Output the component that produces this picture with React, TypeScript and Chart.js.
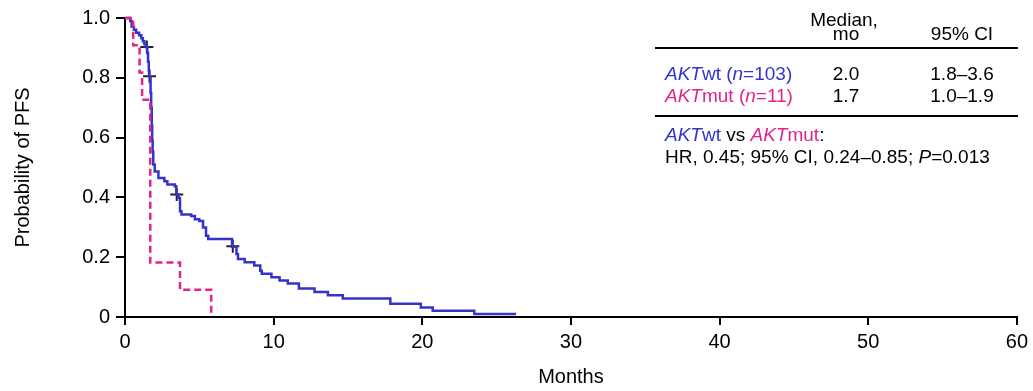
import { useEffect, useRef } from 'react';
import { Chart, registerables } from 'chart.js';

Chart.register(...registerables);

// AKTwt (n=103) Kaplan–Meier step points
const wtTimes = [0, 0.35, 0.45, 0.6, 0.75, 0.95, 1.1, 1.2, 1.3, 1.4, 1.5, 1.55, 1.6, 1.62, 1.72, 1.76, 1.8, 1.83, 1.86, 1.9, 2.0, 2.25, 2.65, 2.85, 3.35, 3.45, 3.6, 3.7, 3.8, 4.45, 4.7, 5.0, 5.25, 5.45, 5.6, 7.2, 7.5, 7.6, 8.05, 8.7, 9.1, 9.2, 9.85, 10.4, 10.95, 11.7, 12.75, 13.65, 14.65, 17.85, 19.9, 20.7, 23.5, 26.3];
const wtSurv = [1.0, 0.99, 0.971, 0.961, 0.951, 0.942, 0.932, 0.922, 0.913, 0.903, 0.883, 0.854, 0.825, 0.805, 0.75, 0.7, 0.64, 0.59, 0.553, 0.51, 0.487, 0.465, 0.454, 0.443, 0.437, 0.41, 0.398, 0.354, 0.343, 0.338, 0.327, 0.321, 0.299, 0.272, 0.261, 0.235, 0.211, 0.194, 0.183, 0.172, 0.155, 0.145, 0.133, 0.122, 0.112, 0.095, 0.084, 0.073, 0.062, 0.044, 0.032, 0.021, 0.01, 0.01];

// AKTmut (n=11)
const mutTimes = [0, 0.55, 0.98, 1.15, 1.7, 3.7, 5.8];
const mutSurv = [1.0, 0.909, 0.818, 0.727, 0.182, 0.091, 0];

// censoring marks (AKTwt)
const censorTimes = [1.47, 1.65, 3.48, 7.25];
const censorSurv = [0.903, 0.805, 0.41, 0.237];

const xTickValues = [0, 10, 20, 30, 40, 50, 60];
const yTickValues = [0, 0.2, 0.4, 0.6, 0.8, 1.0];
const yTickLabels = ['0', '0.2', '0.4', '0.6', '0.8', '1.0'];

const BLUE = '#3434c8';
const MAGENTA = '#e2238c';
const FONT = "'Liberation Sans', Arial, sans-serif";

type Seg = { t: string; c?: string; i?: boolean };

const tablePlugin = {
  id: 'kmTable',
  afterDraw(chart: any) {
    const ctx = chart.ctx as CanvasRenderingContext2D;
    ctx.save();
    ctx.textBaseline = 'alphabetic';
    const size = 19;
    const setFont = (italic?: boolean) => {
      ctx.font = `${italic ? 'italic ' : ''}${size}px ${FONT}`;
    };
    const runWidth = (segs: Seg[]) => {
      let w = 0;
      for (const s of segs) { setFont(s.i); w += ctx.measureText(s.t).width; }
      return w;
    };
    const drawRun = (segs: Seg[], x: number, y: number) => {
      ctx.textAlign = 'left';
      let cx = x;
      for (const s of segs) {
        setFont(s.i);
        ctx.fillStyle = s.c || '#000';
        ctx.fillText(s.t, cx, y);
        cx += ctx.measureText(s.t).width;
      }
    };
    const drawCenter = (segs: Seg[], cx: number, y: number) => {
      drawRun(segs, cx - runWidth(segs) / 2, y);
    };
    const colMed = 846;
    const colCI = 962;
    const left = 665;

    drawCenter([{ t: 'Median,' }], colMed - 2, 26);
    drawCenter([{ t: 'mo' }], colMed, 40);
    drawCenter([{ t: '95% CI' }], colCI, 40);

    ctx.strokeStyle = '#000';
    ctx.lineWidth = 2;
    ctx.beginPath();
    ctx.moveTo(655, 48); ctx.lineTo(1018, 48);
    ctx.moveTo(655, 116); ctx.lineTo(1018, 116);
    ctx.stroke();

    drawRun([{ t: 'AKT', c: BLUE, i: true }, { t: 'wt (', c: BLUE }, { t: 'n', c: BLUE, i: true }, { t: '=103)', c: BLUE }], left, 80);
    drawCenter([{ t: '2.0' }], colMed, 80);
    drawCenter([{ t: '1.8–3.6' }], colCI, 80);

    drawRun([{ t: 'AKT', c: MAGENTA, i: true }, { t: 'mut (', c: MAGENTA }, { t: 'n', c: MAGENTA, i: true }, { t: '=11)', c: MAGENTA }], left, 102);
    drawCenter([{ t: '1.7' }], colMed, 102);
    drawCenter([{ t: '1.0–1.9' }], colCI, 102);

    drawRun([{ t: 'AKT', c: BLUE, i: true }, { t: 'wt', c: BLUE }, { t: ' vs ' }, { t: 'AKT', c: MAGENTA, i: true }, { t: 'mut', c: MAGENTA }, { t: ':' }], left, 141);
    drawRun([{ t: 'HR, 0.45; 95% CI, 0.24–0.85; ' }, { t: 'P', i: true }, { t: '=0.013' }], left, 163);
    ctx.restore();
  },
};

export default function App() {
  const ref = useRef<HTMLCanvasElement | null>(null);
  useEffect(() => {
    if (!ref.current) return;
    const wtData = wtTimes.map((t, i) => ({ x: t, y: wtSurv[i] }));
    const mutData = mutTimes.map((t, i) => ({ x: t, y: mutSurv[i] }));
    const censorData = censorTimes.map((t, i) => ({ x: t, y: censorSurv[i] }));
    const tickFont = { family: FONT, size: 20 };
    const chart = new Chart(ref.current, {
      type: 'line',
      data: {
        datasets: [
          { label: 'AKTmut', data: mutData, borderColor: MAGENTA, borderWidth: 2.5, borderDash: [7, 4], stepped: true, pointRadius: 0, fill: false, clip: false } as any,
          { label: 'AKTwt', data: wtData, borderColor: BLUE, borderWidth: 2.5, stepped: true, pointRadius: 0, fill: false, clip: false } as any,
          { type: 'scatter', label: 'censored', data: censorData, showLine: false, pointStyle: 'cross', pointRadius: 6.5, borderColor: '#222', backgroundColor: '#222', pointBorderWidth: 2, borderWidth: 2, clip: false } as any,
        ],
      },
      options: {
        responsive: false,
        animation: false,
        devicePixelRatio: 1,
        layout: { padding: { left: 0, right: 14, top: 15, bottom: 0 } },
        plugins: { legend: { display: false }, tooltip: { enabled: false } },
        scales: {
          x: {
            type: 'linear',
            min: 0,
            max: 60,
            afterBuildTicks: (scale: any) => { scale.ticks = xTickValues.map((v) => ({ value: v })); },
            afterFit: (scale: any) => { scale.height = 74; },
            ticks: { color: '#000', font: tickFont, padding: 5, maxRotation: 0, callback: (v: any) => String(v) },
            grid: { drawOnChartArea: false, drawTicks: true, tickLength: 8, color: '#000', lineWidth: 2 },
            border: { display: true, color: '#000', width: 2 },
            title: { display: true, text: 'Months', color: '#000', font: { family: FONT, size: 20 }, padding: { top: 0, bottom: 2 } },
          },
          y: {
            type: 'linear',
            min: 0,
            max: 1,
            afterBuildTicks: (scale: any) => { scale.ticks = yTickValues.map((v) => ({ value: v })); },
            afterFit: (scale: any) => { scale.width = 125; },
            ticks: { color: '#000', font: tickFont, padding: 6, callback: (_v: any, i: number) => yTickLabels[i] },
            grid: { drawOnChartArea: false, drawTicks: true, tickLength: 9, color: '#000', lineWidth: 2 },
            border: { display: true, color: '#000', width: 2 },
            title: { display: true, text: 'Probability of PFS', color: '#000', font: { family: FONT, size: 20 }, padding: { top: 11, bottom: 0 } },
          },
        },
      },
      plugins: [tablePlugin],
    });
    return () => chart.destroy();
  }, []);
  return (
    <div style={{ position: 'fixed', left: 0, top: 0, width: 1033, height: 391, background: '#fff' }}>
      <canvas ref={ref} width={1033} height={391} style={{ display: 'block', width: 1033, height: 391 }} />
    </div>
  );
}
